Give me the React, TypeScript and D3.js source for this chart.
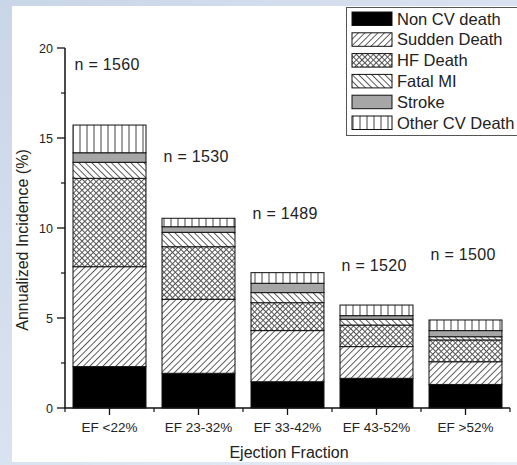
import React from "react";
import * as d3 from "d3";

const categories = ["EF <22%", "EF 23-32%", "EF 33-42%", "EF 43-52%", "EF >52%"];
const seriesNames = ["Non CV death", "Sudden Death", "HF Death", "Fatal MI", "Stroke", "Other CV Death"];
const nonCV = [2.3, 1.93, 1.46, 1.65, 1.31];
const sudden = [5.55, 4.11, 2.84, 1.76, 1.26];
const hfDeath = [4.91, 2.92, 1.55, 1.2, 1.21];
const fatalMI = [0.89, 0.8, 0.56, 0.32, 0.18];
const stroke = [0.53, 0.31, 0.52, 0.2, 0.34];
const otherCV = [1.54, 0.47, 0.59, 0.59, 0.59];
const nLabels = ["n = 1560", "n = 1530", "n = 1489", "n = 1520", "n = 1500"];
const nLabelValues = [18.78, 13.67, 10.5, 7.61, 8.22];
const yMajorTicks = [0, 5, 10, 15, 20];
const yMinorTicks = [2.5, 7.5, 12.5, 17.5];

const W = 517;
const H = 465;
const FONT = "'Liberation Sans', Arial, sans-serif";
const TXT = "#222";

export default function App() {
  const series = [nonCV, sudden, hfDeath, fatalMI, stroke, otherCV];
  const table = categories.map((c, i) => {
    const o: any = { cat: c };
    seriesNames.forEach((s, k) => (o[s] = series[k][i]));
    return o;
  });
  const stacked = d3.stack().keys(seriesNames)(table);

  const x = d3.scaleBand().domain(categories).range([65, 510]).paddingInner(0.18).paddingOuter(0.09);
  const y = d3.scaleLinear().domain([0, 20]).range([408, 48]);
  const step = x.step();
  const boundaries = d3.range(categories.length + 1).map((k) => 65 + k * step);

  const fills = [
    "#000",
    "url(#pSudden)",
    "url(#pHF)",
    "url(#pMI)",
    "#a6a6a6",
    "url(#pOther)",
  ];

  return (
    <svg width={W} height={H} style={{ position: "absolute", left: 0, top: 0 }}>
      <defs>
        <linearGradient id="bg" x1="0" y1="0" x2="1" y2="1">
          <stop offset="0" stopColor="#c9d6e8" />
          <stop offset="1" stopColor="#e9eef8" />
        </linearGradient>
        <pattern id="pSudden" patternUnits="userSpaceOnUse" width="4.6" height="10" patternTransform="rotate(45)">
          <rect width="4.6" height="10" fill="#fff" />
          <line x1="0.5" y1="0" x2="0.5" y2="10" stroke="#444" strokeWidth="0.9" />
        </pattern>
        <pattern id="pMI" patternUnits="userSpaceOnUse" width="4.6" height="10" patternTransform="rotate(-45)">
          <rect width="4.6" height="10" fill="#fff" />
          <line x1="0.5" y1="0" x2="0.5" y2="10" stroke="#444" strokeWidth="0.9" />
        </pattern>
        <pattern id="pHF" patternUnits="userSpaceOnUse" width="4" height="4" patternTransform="rotate(45)">
          <rect width="4" height="4" fill="#fff" />
          <line x1="0.5" y1="0" x2="0.5" y2="4" stroke="#555" strokeWidth="1" />
          <line x1="0" y1="0.5" x2="4" y2="0.5" stroke="#555" strokeWidth="1" />
        </pattern>
        <pattern id="pOther" patternUnits="userSpaceOnUse" width="7" height="10">
          <rect width="7" height="10" fill="#fff" />
          <line x1="3" y1="0" x2="3" y2="10" stroke="#444" strokeWidth="1" />
        </pattern>
      </defs>
      <rect x={0} y={0} width={W} height={H} fill="url(#bg)" />
      <rect x={12} y={6} width={W - 12} height={456} fill="#fff" />

      {/* bars */}
      {stacked.map((layer, k) => (
        <g key={k}>
          {layer.map((d, i) => (
            <rect
              key={i}
              x={x(categories[i])}
              y={y(d[1])}
              width={x.bandwidth()}
              height={y(d[0]) - y(d[1])}
              fill={fills[k]}
              stroke="#111"
              strokeWidth={1}
            />
          ))}
        </g>
      ))}

      {/* n labels */}
      {nLabels.map((t, i) => (
        <text
          key={i}
          x={(x(categories[i]) as number) + 1.5}
          y={y(nLabelValues[i])}
          fontFamily={FONT}
          fontSize={16}
          letterSpacing={0.3}
          fill={TXT}
        >
          {t}
        </text>
      ))}

      {/* y axis */}
      <line x1={65} x2={65} y1={y(20)} y2={y(0)} stroke="#111" strokeWidth={1.5} />
      {yMajorTicks.map((t) => (
        <g key={t}>
          <line x1={57} x2={65} y1={y(t)} y2={y(t)} stroke="#111" strokeWidth={1.3} />
          <text x={53} y={y(t)} dy="0.36em" textAnchor="end" fontFamily={FONT} fontSize={12.5} fill={TXT}>
            {t}
          </text>
        </g>
      ))}
      {yMinorTicks.map((t) => (
        <line key={t} x1={61} x2={65} y1={y(t)} y2={y(t)} stroke="#111" strokeWidth={1.2} />
      ))}
      <text
        transform={`translate(28,${(y(0) + y(20)) / 2 + 12}) rotate(-90)`}
        textAnchor="middle"
        fontFamily={FONT}
        fontSize={16}
        fill={TXT}
      >
        Annualized Incidence (%)
      </text>

      {/* x axis */}
      <line x1={64.25} x2={510} y1={408} y2={408} stroke="#111" strokeWidth={1.5} />
      {categories.map((c) => {
        const cx = (x(c) as number) + x.bandwidth() / 2;
        return (
          <g key={c}>
            <line x1={cx} x2={cx} y1={408} y2={415} stroke="#111" strokeWidth={1.3} />
            <text x={cx} y={432} textAnchor="middle" fontFamily={FONT} fontSize={13.5} fill={TXT}>
              {c}
            </text>
          </g>
        );
      })}
      {boundaries.map((b, k) => (
        <line key={k} x1={b} x2={b} y1={408} y2={412} stroke="#111" strokeWidth={1.2} />
      ))}
      <text x={289} y={458} textAnchor="middle" fontFamily={FONT} fontSize={16} fill={TXT}>
        Ejection Fraction
      </text>

      {/* legend */}
      <rect x={346.5} y={7.5} width={175} height={128} fill="#fff" stroke="#555" strokeWidth={1} />
      {seriesNames.map((s, k) => (
        <g key={s} transform={`translate(0,${12 + k * 20.8})`}>
          <rect x={352} y={0} width={40} height={13.5} fill={fills[k]} stroke="#111" strokeWidth={1} />
          <text x={397} y={12.5} fontFamily={FONT} fontSize={16.5} fill={TXT}>
            {s}
          </text>
        </g>
      ))}
    </svg>
  );
}
